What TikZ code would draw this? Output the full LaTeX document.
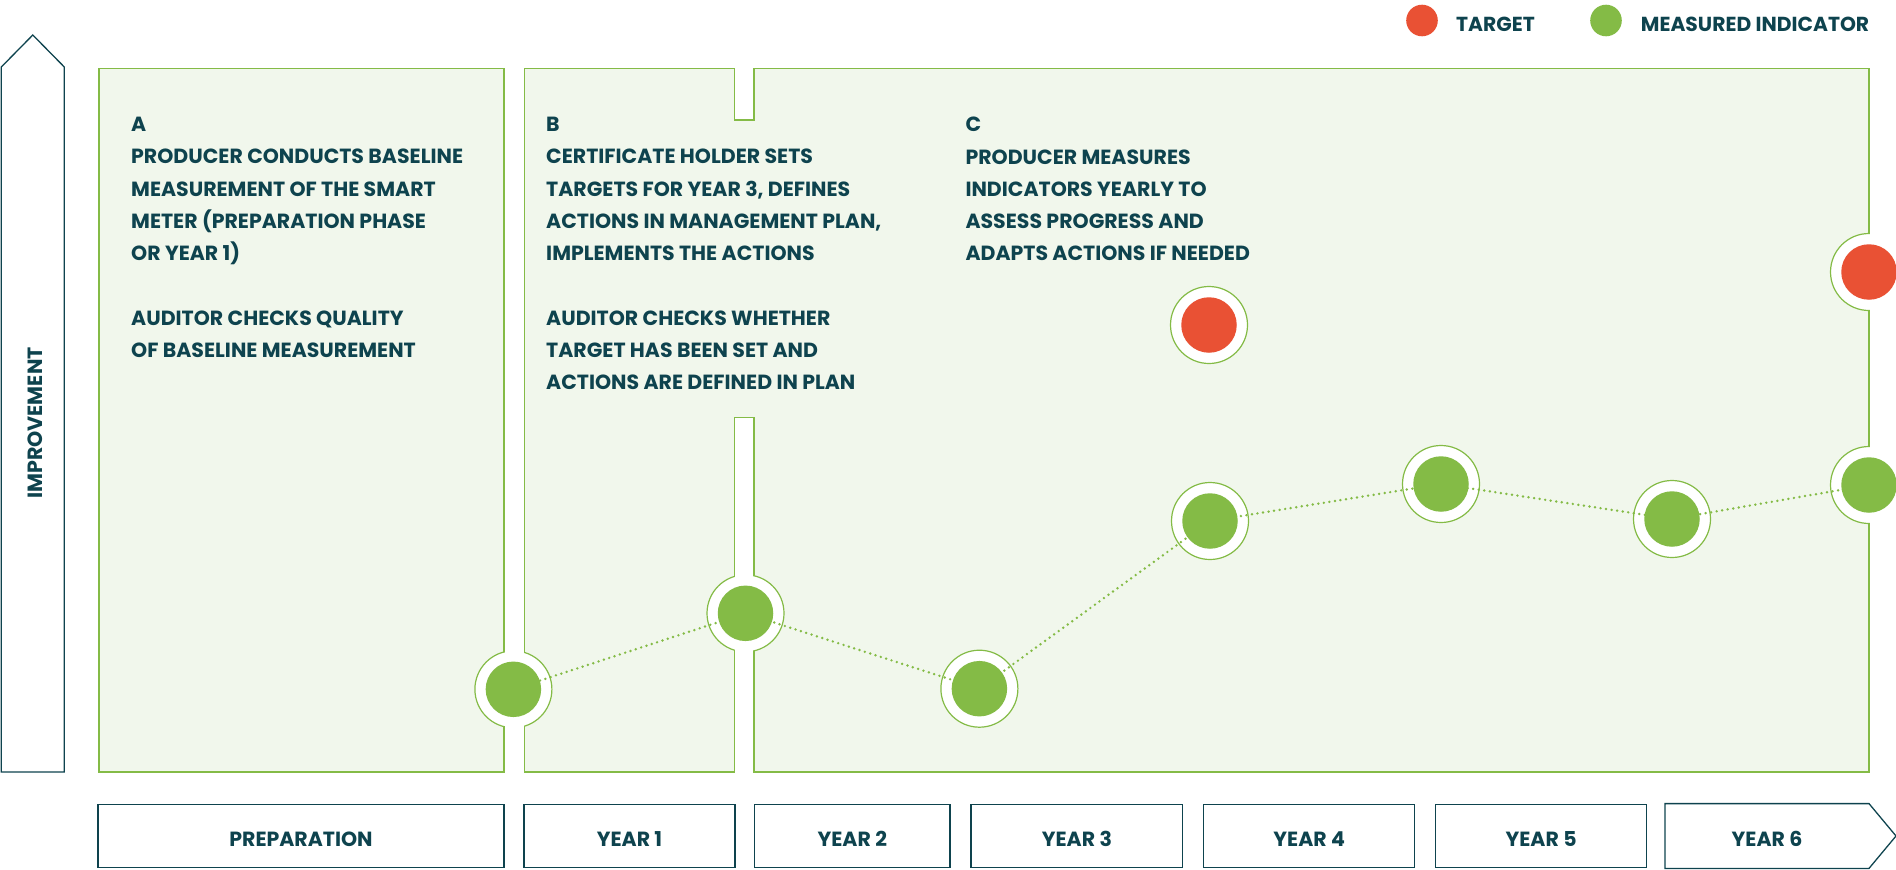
\documentclass[tikz,border=0pt]{standalone}
\usepackage{fontspec}
\setmainfont{Poppins}
\usepackage{tikz}
\definecolor{ink}{RGB}{14,67,78}
\definecolor{leaf}{RGB}{132,187,70}
\definecolor{pale}{RGB}{241,247,236}
\definecolor{targetred}{RGB}{233,81,52}

\begin{document}
\begin{tikzpicture}[x=1pt, y=-1pt,
  panel/.style={fill=pale, draw=leaf, line width=1.5pt},
  ring/.style={circle, inner sep=0pt, minimum size=77pt, fill=white, draw=leaf, line width=1.2pt},
  dot/.style={circle, inner sep=0pt, minimum size=55.5pt, fill=leaf},
  goal/.style={circle, inner sep=0pt, minimum size=55.5pt, fill=targetred},
  trend/.style={leaf, line width=2.7pt, line cap=round, dash pattern=on 0pt off 5.6pt},
  body/.style={anchor=north west, inner sep=0pt, align=left, text=ink, font=\fontsize{20.5}{32.3}\selectfont\bfseries},
  key/.style={anchor=base west, inner sep=0pt, text=ink, font=\fontsize{20.3}{22}\selectfont\bfseries},
  yearbox/.style={draw=ink, fill=white, line width=1.3pt, minimum height=63.5pt, inner sep=0pt, text height=21.4pt, text depth=0pt, text=ink, font=\fontsize{20.5}{22}\selectfont\bfseries}]
  \clip (0,0) rectangle (1896,870);

  \draw[ink, line width=1.3pt, fill=white] (1.3,772) -- (1.3,67) -- (32.8,35) -- (64.3,67) -- (64.3,772) -- cycle;
  \node[rotate=90, inner sep=0pt, text=ink, font=\fontsize{20.6}{22}\selectfont\bfseries] (impr) at (35,423) {IMPROVEMENT};

  \draw[panel] (98.9,68.3) rectangle (503.8,772);
  \draw[panel] (524.5,68.3) -- (734.3,68.3) -- (734.3,120) -- (754,120) -- (754,68.3) -- (1869,68.3) -- (1869,772)
    -- (754,772) -- (754,417.7) -- (734.3,417.7) -- (734.3,772) -- (524.5,772) -- cycle;

  \node[ring] (m1) at (513.4,689.3) {};
  \node[ring] (m2) at (745.5,613.3) {};
  \node[ring] (m3) at (979.4,688.7) {};
  \node[ring] (m4) at (1210,521) {};
  \node[ring] (m5) at (1441,484) {};
  \node[ring] (m6) at (1672,519) {};
  \node[ring] (m7) at (1869,485) {};
  \node[ring] (t1) at (1209,325) {};
  \node[ring] (t2) at (1869,272) {};

  \fill[white] (504.6,60) rectangle (523.7,780);
  \fill[white] (735.1,418.5) rectangle (753.2,780);
  \fill[white] (1869.8,60) rectangle (1896,780);

  \draw[trend] (m1.center) -- (m2.center) -- (m3.center) -- (m4.center) -- (m5.center) -- (m6.center) -- (m7.center);

  \foreach \i in {1,...,7}
    \node[dot] (d\i) at (m\i) {};
  \node[goal] (g1) at (t1) {};
  \node[goal] (g2) at (t2) {};

  \node[body] (txta) at (131,117) {A\\PRODUCER CONDUCTS BASELINE\\MEASUREMENT OF THE SMART\\METER (PREPARATION PHASE\\OR YEAR 1)\\[32.3pt]AUDITOR CHECKS QUALITY\\OF BASELINE MEASUREMENT};
  \node[body] (txtb) at (546,117) {B\\CERTIFICATE HOLDER SETS\\TARGETS FOR YEAR 3, DEFINES\\ACTIONS IN MANAGEMENT PLAN,\\IMPLEMENTS THE ACTIONS\\[32.3pt]AUDITOR CHECKS WHETHER\\TARGET HAS BEEN SET AND\\ACTIONS ARE DEFINED IN PLAN};
  \node[body] (txtc) at (965.3,117) {C\\PRODUCER MEASURES\\INDICATORS YEARLY TO\\ASSESS PROGRESS AND\\ADAPTS ACTIONS IF NEEDED};

  \node[circle, inner sep=0pt, minimum size=31.6pt, fill=targetred] (keyt) at (1422,20.5) {};
  \node[key] (keytl) at (1456,31.7) {TARGET};
  \node[circle, inner sep=0pt, minimum size=31.6pt, fill=leaf] (keym) at (1606,20.5) {};
  \node[key] (keyml) at (1640.7,31.7) {MEASURED INDICATOR};

  \node[yearbox, minimum width=406pt] (prep) at (301,836) {PREPARATION};
  \node[yearbox, minimum width=211pt] (y1) at (629.5,836) {YEAR 1};
  \node[yearbox, minimum width=195.5pt] (y2) at (852.3,836) {YEAR 2};
  \node[yearbox, minimum width=211.7pt] (y3) at (1076.9,836) {YEAR 3};
  \node[yearbox, minimum width=210.9pt] (y4) at (1309.2,836) {YEAR 4};
  \node[yearbox, minimum width=210.9pt] (y5) at (1541.1,836) {YEAR 5};
  \node[yearbox, minimum width=202.7pt, draw=none] (y6) at (1767,836) {YEAR 6};
  \draw[ink, line width=1.3pt] (y6.north west) -- (y6.north east) -- (1896,836) -- (y6.south east) -- (y6.south west) -- cycle;
\end{tikzpicture}
\end{document}
